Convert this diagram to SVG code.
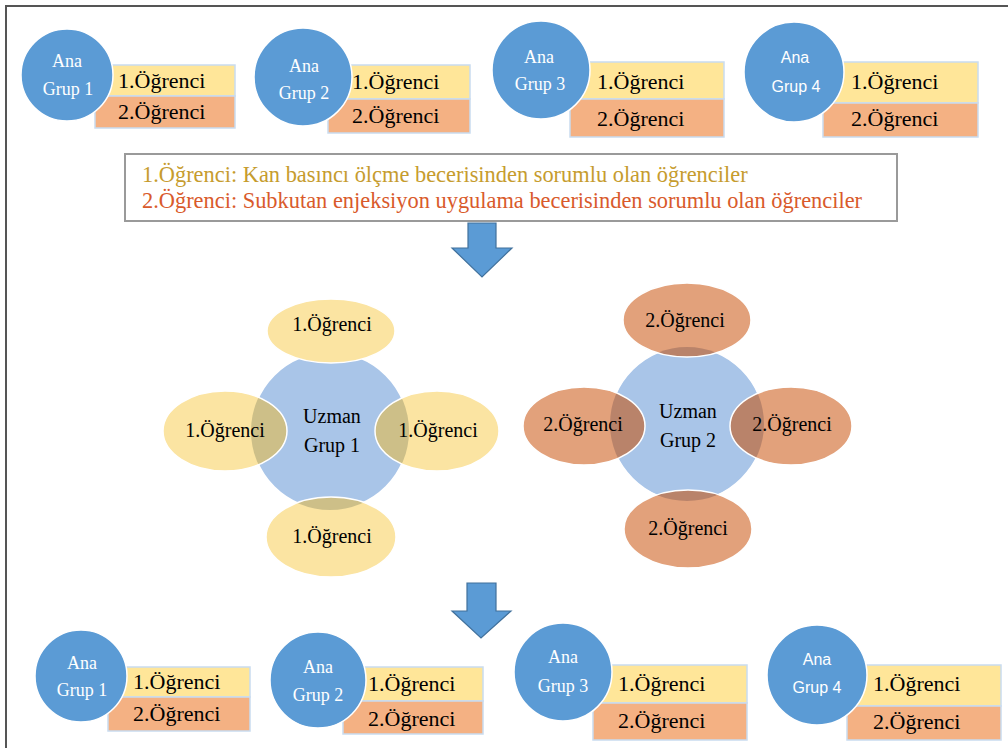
<svg xmlns="http://www.w3.org/2000/svg" width="1008" height="748" viewBox="0 0 1008 748">
<style>
.ana{fill:#5B9BD5;stroke:#fff;stroke-width:1.5}
.y{fill:#FFE699;stroke:#C9DCF0;stroke-width:1.5}
.o{fill:#F4B183;stroke:#C9DCF0;stroke-width:1.5}
.serif{font-family:'Liberation Serif','DejaVu Serif','Noto Serif',serif}
.t{font-size:22px;fill:#000}
.w{font-size:18px;fill:#fff;text-anchor:middle}
.ws{font-family:'Liberation Sans',Arial,sans-serif;font-size:16px;fill:#fff;text-anchor:middle}
.uz{fill:#A9C5E8;stroke:#fff;stroke-width:1.5}
.ey{fill:#FBE4A2}
.eo{fill:#E2A17B}
.oy{fill:#CDBF88}
.oo{fill:#B9836A}
.eline{fill:none;stroke:#fff;stroke-width:1.5}
.et{font-size:20px;fill:#000;text-anchor:middle}
.arrow{fill:#5B9BD5;stroke:#41719C;stroke-width:1.2}
</style>
<defs>
<clipPath id="c1"><circle cx="330" cy="431" r="79"/></clipPath>
<clipPath id="c2"><circle cx="687" cy="424" r="77"/></clipPath>
</defs>
<rect x="6" y="6" width="1010" height="750" fill="#fff" stroke="#555" stroke-width="2"/>

<g id="ana-top-1">
<rect class="y" x="95" y="65" width="140" height="31"/>
<rect class="o" x="95" y="96" width="140" height="32"/>
<text class="serif t" x="118" y="88">1.Öğrenci</text>
<text class="serif t" x="118" y="119">2.Öğrenci</text>
<circle class="ana" cx="67" cy="75" r="46"/>
<text class="serif w" x="67" y="67">Ana</text>
<text class="serif w" x="68" y="95">Grup 1</text>
</g>
<g id="ana-top-2">
<rect class="y" x="328" y="65" width="142" height="34"/>
<rect class="o" x="328" y="99" width="142" height="34"/>
<text class="serif t" x="352" y="89">1.Öğrenci</text>
<text class="serif t" x="352" y="123">2.Öğrenci</text>
<circle class="ana" cx="303" cy="77" r="49"/>
<text class="serif w" x="304" y="72">Ana</text>
<text class="serif w" x="304" y="99">Grup 2</text>
</g>
<g id="ana-top-3">
<rect class="y" x="570" y="62" width="154" height="37"/>
<rect class="o" x="570" y="99" width="154" height="38"/>
<text class="serif t" x="597" y="89">1.Öğrenci</text>
<text class="serif t" x="597" y="126">2.Öğrenci</text>
<circle class="ana" cx="541" cy="70" r="49"/>
<text class="serif w" x="539" y="63">Ana</text>
<text class="serif w" x="540" y="90">Grup 3</text>
</g>
<g id="ana-top-4">
<rect class="y" x="823" y="62" width="155" height="41"/>
<rect class="o" x="823" y="103" width="155" height="34"/>
<text class="serif t" x="851" y="89">1.Öğrenci</text>
<text class="serif t" x="851" y="126">2.Öğrenci</text>
<circle class="ana" cx="794" cy="72" r="50"/>
<text class="ws" x="795" y="63">Ana</text>
<text class="ws" x="796" y="92">Grup 4</text>
</g>

<g id="legend">
<rect x="125" y="154" width="772" height="67" fill="#fff" stroke="#9A9A9A" stroke-width="2"/>
<text class="serif" x="142" y="182" font-size="22.4" fill="#C69C2E">1.Öğrenci: Kan basıncı ölçme becerisinden sorumlu olan öğrenciler</text>
<text class="serif" x="142" y="208" font-size="22.4" fill="#D95A2B">2.Öğrenci: Subkutan enjeksiyon uygulama becerisinden sorumlu olan öğrenciler</text>
</g>

<g id="uzman-1">
<circle class="uz" cx="330" cy="431" r="79"/>
<ellipse class="ey" cx="331" cy="331" rx="64" ry="32"/>
<ellipse class="ey" cx="225" cy="431" rx="62" ry="40"/>
<ellipse class="ey" cx="437" cy="431" rx="62" ry="40"/>
<ellipse class="ey" cx="331" cy="537" rx="65" ry="40"/>
<g clip-path="url(#c1)">
<ellipse class="oy" cx="225" cy="431" rx="62" ry="40"/>
<ellipse class="oy" cx="437" cy="431" rx="62" ry="40"/>
<ellipse class="oy" cx="331" cy="537" rx="65" ry="40"/>
</g>
<ellipse class="eline" cx="331" cy="331" rx="64" ry="32"/>
<ellipse class="eline" cx="225" cy="431" rx="62" ry="40"/>
<ellipse class="eline" cx="437" cy="431" rx="62" ry="40"/>
<ellipse class="eline" cx="331" cy="537" rx="65" ry="40"/>
<text class="serif et" x="332" y="331">1.Öğrenci</text>
<text class="serif et" x="225" y="437">1.Öğrenci</text>
<text class="serif et" x="438" y="437">1.Öğrenci</text>
<text class="serif et" x="332" y="543">1.Öğrenci</text>
<text class="serif et" x="332" y="423">Uzman</text>
<text class="serif et" x="332" y="452">Grup 1</text>
</g>

<g id="uzman-2">
<circle class="uz" cx="687" cy="424" r="77"/>
<ellipse class="eo" cx="687" cy="320" rx="64" ry="37"/>
<ellipse class="eo" cx="584" cy="426" rx="61" ry="39"/>
<ellipse class="eo" cx="791" cy="426" rx="61" ry="39"/>
<ellipse class="eo" cx="688" cy="529" rx="64" ry="39"/>
<g clip-path="url(#c2)">
<ellipse class="oo" cx="687" cy="320" rx="64" ry="37"/>
<ellipse class="oo" cx="584" cy="426" rx="61" ry="39"/>
<ellipse class="oo" cx="791" cy="426" rx="61" ry="39"/>
<ellipse class="oo" cx="688" cy="529" rx="64" ry="39"/>
</g>
<ellipse class="eline" cx="687" cy="320" rx="64" ry="37"/>
<ellipse class="eline" cx="584" cy="426" rx="61" ry="39"/>
<ellipse class="eline" cx="791" cy="426" rx="61" ry="39"/>
<ellipse class="eline" cx="688" cy="529" rx="64" ry="39"/>
<text class="serif et" x="685" y="327">2.Öğrenci</text>
<text class="serif et" x="583" y="431">2.Öğrenci</text>
<text class="serif et" x="792" y="431">2.Öğrenci</text>
<text class="serif et" x="688" y="535">2.Öğrenci</text>
<text class="serif et" x="688" y="418">Uzman</text>
<text class="serif et" x="688" y="447">Grup 2</text>
</g>

<g id="ana-bottom-1">
<rect class="y" x="108" y="667" width="142" height="30"/>
<rect class="o" x="108" y="697" width="142" height="34"/>
<text class="serif t" x="133" y="689">1.Öğrenci</text>
<text class="serif t" x="133" y="721">2.Öğrenci</text>
<circle class="ana" cx="81" cy="676" r="46"/>
<text class="serif w" x="82" y="669">Ana</text>
<text class="serif w" x="82" y="696">Grup 1</text>
</g>
<g id="ana-bottom-2">
<rect class="y" x="343" y="667" width="140" height="34"/>
<rect class="o" x="343" y="701" width="140" height="33"/>
<text class="serif t" x="368" y="691">1.Öğrenci</text>
<text class="serif t" x="368" y="726">2.Öğrenci</text>
<circle class="ana" cx="318" cy="680" r="48"/>
<text class="serif w" x="318" y="673">Ana</text>
<text class="serif w" x="318" y="701">Grup 2</text>
</g>
<g id="ana-bottom-3">
<rect class="y" x="593" y="665" width="154" height="38"/>
<rect class="o" x="593" y="703" width="154" height="37"/>
<text class="serif t" x="618" y="691">1.Öğrenci</text>
<text class="serif t" x="618" y="728">2.Öğrenci</text>
<circle class="ana" cx="563" cy="672" r="49"/>
<text class="serif w" x="563" y="663">Ana</text>
<text class="serif w" x="563" y="692">Grup 3</text>
</g>
<g id="ana-bottom-4">
<rect class="y" x="847" y="665" width="154" height="41"/>
<rect class="o" x="847" y="706" width="154" height="34"/>
<text class="serif t" x="873" y="691">1.Öğrenci</text>
<text class="serif t" x="873" y="729">2.Öğrenci</text>
<circle class="ana" cx="817" cy="675" r="50"/>
<text class="ws" x="817" y="665">Ana</text>
<text class="ws" x="817" y="693">Grup 4</text>
</g>

<g id="connectors">
<path class="arrow" d="M468 223 H496 V248 H512 L482 277 L452 248 H468 Z"/>
<path class="arrow" d="M467 583 H496 V611 H511 L481 638 L452 611 H467 Z"/>
</g>
</svg>
